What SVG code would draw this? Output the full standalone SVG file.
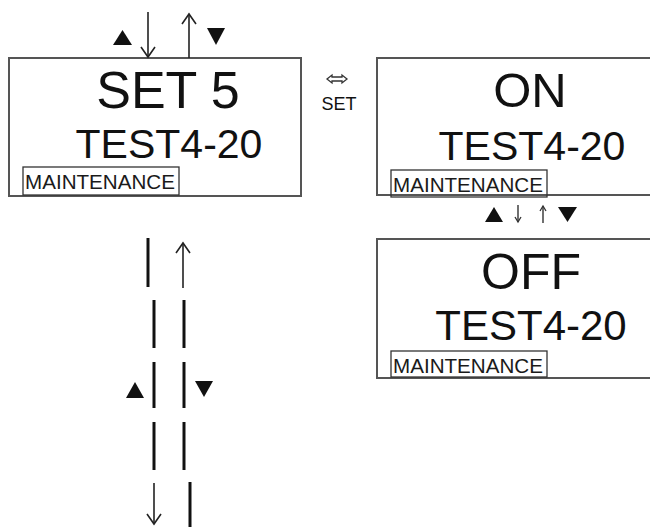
<svg xmlns="http://www.w3.org/2000/svg" width="650" height="527" viewBox="0 0 650 527">
<defs>
<style>
.box{fill:#fff;stroke:#555;stroke-width:2}
.tag{fill:none;stroke:#333;stroke-width:1.3}
.t{font-family:"Liberation Sans",Arial,sans-serif;fill:#111;text-anchor:middle}
.m{font-family:"Liberation Sans",Arial,sans-serif;fill:#1a1a1a;font-size:21px}
.seg{stroke:#111;stroke-width:3;fill:none}
.arr{stroke:#222;stroke-width:1.6;fill:none}
.sarr{stroke:#333;stroke-width:1.4;fill:none}
.tri{fill:#111}
</style>
<marker id="ah" markerUnits="userSpaceOnUse" markerWidth="20" markerHeight="20" viewBox="-12 -10 14 20" refX="0" refY="0" orient="auto">
<path d="M-10,-7 L0,0 L-10,7" fill="none" stroke="#222" stroke-width="1.6"/>
</marker>
<marker id="sh" markerUnits="userSpaceOnUse" markerWidth="10" markerHeight="10" viewBox="-6 -5 7 10" refX="0" refY="0" orient="auto">
<path d="M-5,-3 L0,0 L-5,3" fill="none" stroke="#333" stroke-width="1.3"/>
</marker>
</defs>

<g id="node-set5">
<rect class="box" x="9" y="58" width="292" height="138"/>
<text class="t" x="168" y="108" font-size="52">SET 5</text>
<text class="t" x="169" y="158" font-size="41">TEST4-20</text>
<rect class="tag" x="23" y="167" width="156" height="28"/>
<text class="m" x="25" y="188.5" textLength="150" lengthAdjust="spacingAndGlyphs">MAINTENANCE</text>
</g>

<g id="node-on">
<rect class="box" x="377" y="58" width="285" height="137"/>
<text class="t" x="530" y="107" font-size="49">ON</text>
<text class="t" x="532" y="160" font-size="41">TEST4-20</text>
<rect class="tag" x="391" y="170" width="156" height="27"/>
<text class="m" x="393" y="191.5" textLength="150" lengthAdjust="spacingAndGlyphs">MAINTENANCE</text>
</g>

<g id="node-off">
<rect class="box" x="377" y="239" width="285" height="139"/>
<text class="t" x="531" y="289" font-size="50">OFF</text>
<text class="t" x="531" y="340" font-size="42">TEST4-20</text>
<rect class="tag" x="391" y="351" width="156" height="26"/>
<text class="m" x="393" y="372.5" textLength="150" lengthAdjust="spacingAndGlyphs">MAINTENANCE</text>
</g>

<g id="connectors">
<polygon class="tri" points="113,45 132,45 122.5,30"/>
<line class="arr" x1="148" y1="12" x2="148" y2="57" marker-end="url(#ah)"/>
<line class="arr" x1="189" y1="58" x2="189" y2="14" marker-end="url(#ah)"/>
<polygon class="tri" points="207,28 225,28 216,45"/>

<path d="M327,79 L332,75 L332,77 L342,77 L342,75 L347,79 L342,83 L342,81 L332,81 L332,83 Z" fill="none" stroke="#333" stroke-width="1.3"/>
<text class="t" x="339" y="110" font-size="18">SET</text>

<polygon class="tri" points="485,222 503,222 494,207"/>
<line class="sarr" x1="518" y1="205" x2="518" y2="222" marker-end="url(#sh)"/>
<line class="sarr" x1="543" y1="223" x2="543" y2="206" marker-end="url(#sh)"/>
<polygon class="tri" points="558,207 577,207 567.5,222"/>

<line class="seg" x1="148" y1="238" x2="148" y2="287"/>
<line class="seg" x1="154" y1="300" x2="154" y2="348"/>
<line class="seg" x1="154" y1="362" x2="154" y2="408"/>
<line class="seg" x1="154" y1="422" x2="154" y2="470"/>
<line class="arr" x1="154" y1="483" x2="154" y2="524" marker-end="url(#ah)"/>

<line class="arr" x1="183" y1="288" x2="183" y2="243" marker-end="url(#ah)"/>
<line class="seg" x1="184" y1="300" x2="184" y2="348"/>
<line class="seg" x1="184" y1="362" x2="184" y2="408"/>
<line class="seg" x1="184" y1="422" x2="184" y2="470"/>
<line class="seg" x1="190" y1="482" x2="190" y2="527"/>

<polygon class="tri" points="126,398 144,398 135,382"/>
<polygon class="tri" points="195,381 213,381 204,397"/>
</g>
</svg>
